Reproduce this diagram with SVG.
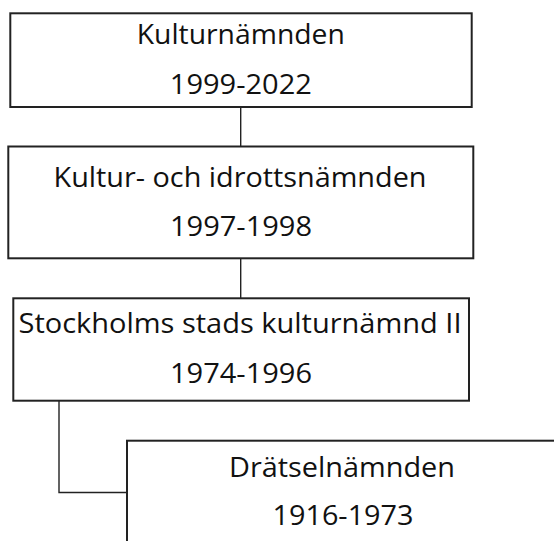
<svg xmlns="http://www.w3.org/2000/svg" width="554" height="541" viewBox="0 0 554 541">
<style>
.box{fill:#fff;stroke:#222;stroke-width:2}
.con{fill:none;stroke:#222;stroke-width:1.4}
text{font-family:"Open Sans","Liberation Sans",sans-serif;font-size:28px;fill:#111;text-anchor:middle}
</style>
<rect width="554" height="541" fill="#fff"/>
<g id="connectors">
<line class="con" x1="240.7" y1="107" x2="240.7" y2="146.5"/>
<line class="con" x1="240.7" y1="258.5" x2="240.7" y2="298.5"/>
<polyline class="con" points="59,400.7 59,492.5 127,492.5"/>
</g>
<g id="n1">
<rect class="box" x="10.3" y="13.3" width="461.4" height="93.7"/>
<text x="240.8" y="44" textLength="208" lengthAdjust="spacingAndGlyphs">Kulturnämnden</text>
<text x="240.8" y="94" textLength="142" lengthAdjust="spacingAndGlyphs">1999-2022</text>
</g>
<g id="n2">
<rect class="box" x="8.3" y="146.5" width="465" height="111.8"/>
<text x="240" y="187" textLength="373" lengthAdjust="spacingAndGlyphs">Kultur- och idrottsnämnden</text>
<text x="241" y="236" textLength="142" lengthAdjust="spacingAndGlyphs">1997-1998</text>
</g>
<g id="n3">
<rect class="box" x="13.3" y="298.3" width="455.7" height="102.4"/>
<text x="240" y="333" textLength="443" lengthAdjust="spacingAndGlyphs">Stockholms stads kulturnämnd II</text>
<text x="241" y="383" textLength="142" lengthAdjust="spacingAndGlyphs">1974-1996</text>
</g>
<g id="n4">
<rect class="box" x="127" y="440.7" width="431" height="120"/>
<text x="342" y="476.7" textLength="226" lengthAdjust="spacingAndGlyphs">Drätselnämnden</text>
<text x="343" y="525" textLength="141" lengthAdjust="spacingAndGlyphs">1916-1973</text>
</g>
</svg>
